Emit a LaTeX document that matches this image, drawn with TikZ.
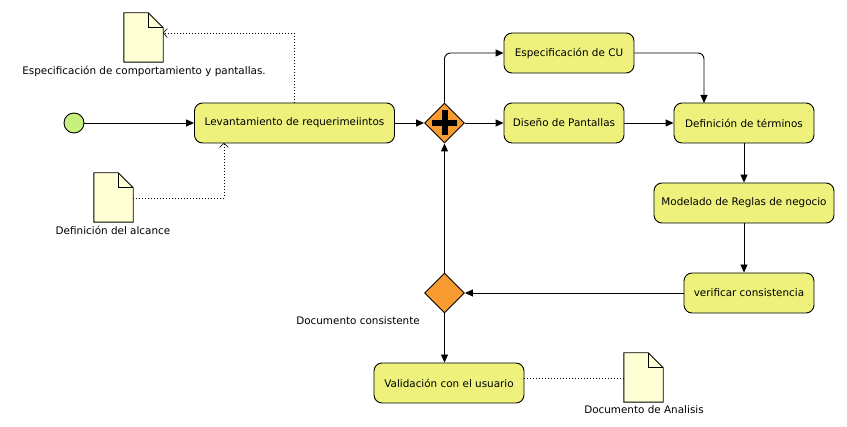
\documentclass[tikz,border=0pt]{standalone}
\usepackage{fontspec}
\setmainfont{DejaVu Sans}
\usetikzlibrary{arrows.meta,shapes.geometric}
\definecolor{taskfill}{HTML}{EEF27C}
\definecolor{startfill}{HTML}{C7F07E}
\definecolor{gatefill}{HTML}{F89B30}
\definecolor{docfill}{HTML}{FFFFD6}
\begin{document}
\begin{tikzpicture}[x=1pt,y=-1pt,
  every node/.style={font=\fontsize{10.4}{12}\selectfont},
  task/.style={draw, line width=0.9pt, fill=taskfill, rounded corners=8pt, minimum height=40pt, inner sep=0pt},
  startev/.style={draw, line width=0.9pt, fill=startfill, circle, minimum size=20pt, inner sep=0pt},
  gate/.style={draw, line width=0.9pt, fill=gatefill, diamond, minimum width=40pt, minimum height=40pt, inner sep=0pt},
  docnode/.style={minimum width=39pt, minimum height=49pt, inner sep=0pt},
  lbl/.style={inner sep=0pt},
  flow/.style={line width=0.9pt, -{Triangle[length=8pt,width=7pt]}, rounded corners=6pt},
  assoc/.style={line width=0.9pt, dash pattern=on 1pt off 2pt},
  assocarr/.style={assoc, -{Straight Barb[length=4pt,width=9pt,line width=0.6pt]}}
]
\useasboundingbox (0,0) rectangle (847,427);

% nodes
\node[startev] (start) at (74,123) {};
\node[task, minimum width=200pt] (lev) at (294.5,123) {Levantamiento de requerimeiintos};
\node[gate] (par) at (444.5,123) {};
\node[task, minimum width=130pt] (cu) at (569,53) {Especificación de CU};
\node[task, minimum width=120pt] (dis) at (564,123) {Diseño de Pantallas};
\node[task, minimum width=140pt] (def) at (744,123) {Definición de términos};
\node[task, minimum width=180pt] (mod) at (744,203) {Modelado de Reglas de negocio};
\node[task, minimum width=130pt] (ver) at (749,293) {verificar consistencia};
\node[gate] (dec) at (444.5,293) {};
\node[task, minimum width=150pt] (val) at (449,383) {Validación con el usuario};

\node[docnode] (doc1) at (143.5,37.5) {};
\node[docnode] (doc2) at (113.5,197.5) {};
\node[docnode] (doc3) at (643.5,377.5) {};
\foreach \d in {doc1,doc2,doc3}{
  \draw[line width=0.9pt, fill=docfill, line join=miter]
    (\d.south west) -- (\d.north west) -- ([xshift=-15pt]\d.north east)
    -- ([yshift=-15pt]\d.north east) -- (\d.south east) -- cycle;
  \draw[line width=0.9pt, line join=miter]
    ([xshift=-15pt]\d.north east) -- ([xshift=-15pt,yshift=-15pt]\d.north east)
    -- ([yshift=-15pt]\d.north east);
}

% plus sign in parallel gateway
\fill (par.center) +(-12.5,-3) rectangle +(12.5,3);
\fill (par.center) +(-3,-12.5) rectangle +(3,12.5);

% labels
\node[lbl] (l1) at (144,71) {Especificación de comportamiento y pantallas.};
\node[lbl] (l2) at (113,230) {Definición del alcance};
\node[lbl] (l3) at (644,410) {Documento de Analisis};
\node[lbl, anchor=east] (l4) at (420,321) {Documento consistente};

% flows
\draw[flow] (start) -- (lev);
\draw[flow] (lev) -- (par);
\draw[flow] (par.north) |- (cu.west);
\draw[flow] (par.east) -- (dis.west);
\draw[flow] (dis) -- (def);
\coordinate (deftop) at (704,103);
\draw[flow] (cu.east) -| (deftop);
\draw[flow] (def) -- (mod);
\draw[flow] (mod.south) -- (mod.south |- ver.north);
\draw[flow] (ver.west) -- (dec.east);
\draw[flow] (dec.north) -- (par.south);
\draw[flow] (dec.south) -- (dec.south |- val.north);

% associations
\coordinate (d1r) at (163,33);
\draw[assocarr] (lev.north) |- (d1r);
\coordinate (d2r) at (133,198);
\coordinate (levb) at (224,143);
\draw[assocarr] (d2r) -| (levb);
\coordinate (d3l) at (624,378);
\coordinate (valr) at (524,378);
\draw[assoc] (valr) -- (d3l);
\end{tikzpicture}
\end{document}
